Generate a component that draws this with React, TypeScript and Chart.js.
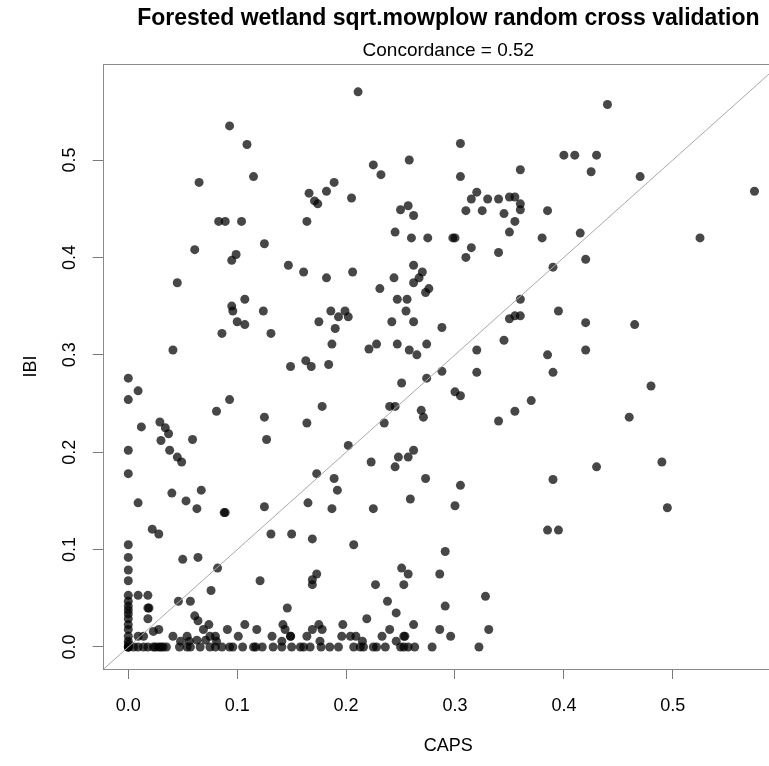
import { useEffect, useRef } from "react";
import { Chart, registerables } from "chart.js";

Chart.register(...registerables);

// Cross-validated CAPS predictions (x) against observed IBI (y)
const capsValues = [
  0.211, 0.093, 0.109, 0.258, 0.225, 0.232, 0.115, 0.065, 0.189, 0.182,
  0.166, 0.171, 0.174, 0.205, 0.25, 0.257, 0.262, 0.083, 0.089, 0.104,
  0.164, 0.245, 0.26, 0.275, 0.125, 0.061, 0.095, 0.099, 0.147, 0.161,
  0.182, 0.206, 0.262, 0.27, 0.244, 0.267, 0.262, 0.045, 0.231, 0.276,
  0.273, 0.247, 0.256, 0.107, 0.095, 0.096, 0.124, 0.186, 0.199, 0.193,
  0.202, 0.255, 0.1, 0.107, 0.175, 0.242, 0.262, 0.19, 0.086, 0.131,
  0.288, 0.187, 0.221, 0.228, 0.247, 0.258, 0.265, 0.274, 0.041, 0.149,
  0.163, 0.168, 0.184, 0.288, 0.274, 0.251, 0.0, 0.009, 0.0, 0.093,
  0.081, 0.178, 0.24, 0.245, 0.269, 0.271, 0.125, 0.164, 0.235, 0.012,
  0.029, 0.034, 0.037, 0.03, 0.059, 0.127, 0.0, 0.038, 0.045, 0.049,
  0.202, 0.262, 0.257, 0.248, 0.223, 0.245, 0.0, 0.173, 0.189, 0.273,
  0.192, 0.04, 0.067, 0.009, 0.053, 0.063, 0.088, 0.089, 0.125, 0.165,
  0.187, 0.225, 0.259, 0.022, 0.028, 0.131, 0.15, 0.169, 0.207,
  // zero-CAPS column
  0.0, 0.0, 0.0, 0.0, 0.0, 0.0, 0.0, 0.0, 0.0, 0.0, 0.0, 0.0, 0.0, 0.0,
  0.0, 0.0, 0.0, 0.0,
  0.009, 0.018, 0.018, 0.019, 0.018, 0.009, 0.014, 0.023, 0.028,
  // IBI = 0 row
  0.005, 0.009, 0.014, 0.018, 0.023, 0.025, 0.028, 0.03, 0.032, 0.035,
  0.047, 0.054, 0.057, 0.066, 0.075, 0.08, 0.086, 0.093, 0.096, 0.105,
  0.115, 0.117, 0.123, 0.133, 0.141, 0.15, 0.158, 0.161, 0.167, 0.177,
  0.185, 0.193, 0.207, 0.213, 0.216, 0.225, 0.228, 0.236, 0.25, 0.253,
  0.257, 0.263, 0.279, 0.322,
  // near-zero IBI
  0.041, 0.048, 0.054, 0.056, 0.063, 0.071, 0.075, 0.08, 0.081, 0.069,
  0.074, 0.091, 0.101, 0.107, 0.118, 0.132, 0.142, 0.144, 0.141, 0.149,
  0.149, 0.146, 0.164, 0.169, 0.175, 0.178, 0.176, 0.197, 0.196, 0.204,
  0.209, 0.215, 0.219, 0.233, 0.24, 0.246, 0.253, 0.254, 0.262, 0.286,
  0.296, 0.331, 0.328,
  0.05, 0.064, 0.082, 0.076, 0.046, 0.057, 0.061, 0.064, 0.121, 0.169,
  0.169, 0.173, 0.227, 0.251, 0.257, 0.253, 0.238, 0.246, 0.291, 0.286,
  0.291,
  // higher CAPS
  0.305, 0.305, 0.31, 0.315, 0.32, 0.325, 0.33, 0.34, 0.35, 0.355,
  0.36, 0.36, 0.355, 0.345, 0.35, 0.36, 0.315, 0.31, 0.34, 0.298,
  0.3, 0.385, 0.38, 0.39, 0.4, 0.41, 0.425, 0.43, 0.44, 0.415,
  0.42, 0.47, 0.575, 0.525, 0.395, 0.36, 0.355, 0.35, 0.345, 0.36,
  0.32, 0.32, 0.3, 0.305, 0.355, 0.37, 0.34, 0.39, 0.385, 0.42,
  0.42, 0.465, 0.48, 0.46, 0.43, 0.39, 0.49, 0.495, 0.385, 0.395,
  0.305, 0.3,
];

const ibiValues = [
  0.57, 0.535, 0.516, 0.5, 0.495, 0.485, 0.483, 0.477, 0.477, 0.468,
  0.466, 0.458, 0.455, 0.461, 0.449, 0.453, 0.443, 0.437, 0.437, 0.437,
  0.437, 0.426, 0.42, 0.42, 0.414, 0.408, 0.397, 0.403, 0.392, 0.385,
  0.379, 0.385, 0.392, 0.385, 0.379, 0.379, 0.374, 0.374, 0.368, 0.368,
  0.364, 0.357, 0.357, 0.357, 0.35, 0.345, 0.345, 0.345, 0.345, 0.339,
  0.339, 0.345, 0.334, 0.331, 0.334, 0.334, 0.334, 0.327, 0.322, 0.322,
  0.328, 0.311, 0.306, 0.311, 0.311, 0.305, 0.3, 0.311, 0.305, 0.288,
  0.294, 0.288, 0.29, 0.283, 0.276, 0.271, 0.276, 0.263, 0.254, 0.254,
  0.242, 0.247, 0.247, 0.247, 0.243, 0.236, 0.236, 0.23, 0.23, 0.226,
  0.231, 0.225, 0.219, 0.212, 0.213, 0.213, 0.202, 0.202, 0.195, 0.19,
  0.207, 0.202, 0.195, 0.195, 0.19, 0.185, 0.178, 0.178, 0.173, 0.173,
  0.161, 0.158, 0.161, 0.148, 0.15, 0.142, 0.138, 0.138, 0.144, 0.148,
  0.142, 0.142, 0.152, 0.121, 0.116, 0.116, 0.116, 0.111, 0.105,
  // zero-CAPS column
  0.105, 0.092, 0.079, 0.068, 0.053, 0.047, 0.042, 0.038, 0.034, 0.029,
  0.023, 0.018, 0.011, 0.006, 0.003, 0.0, 0.0, 0.0,
  0.053, 0.053, 0.04, 0.04, 0.029, 0.011, 0.011, 0.016, 0.018,
  // IBI = 0 row
  0.0, 0.0, 0.0, 0.0, 0.0, 0.0, 0.0, 0.0, 0.0, 0.0,
  0.0, 0.0, 0.0, 0.0, 0.0, 0.0, 0.0, 0.0, 0.0, 0.0,
  0.0, 0.0, 0.0, 0.0, 0.0, 0.0, 0.0, 0.0, 0.0, 0.0,
  0.0, 0.0, 0.0, 0.0, 0.0, 0.0, 0.0, 0.0, 0.0, 0.0,
  0.0, 0.0, 0.0, 0.0,
  // near-zero IBI
  0.011, 0.006, 0.011, 0.006, 0.007, 0.007, 0.011, 0.011, 0.006, 0.018,
  0.023, 0.018, 0.011, 0.023, 0.018, 0.011, 0.023, 0.018, 0.006, 0.011,
  0.011, 0.04, 0.011, 0.018, 0.023, 0.018, 0.006, 0.023, 0.011, 0.011,
  0.011, 0.006, 0.029, 0.011, 0.018, 0.006, 0.011, 0.011, 0.023, 0.018,
  0.011, 0.018, 0.052,
  0.09, 0.092, 0.081, 0.058, 0.047, 0.047, 0.032, 0.027, 0.068, 0.069,
  0.064, 0.075, 0.064, 0.081, 0.075, 0.064, 0.047, 0.035, 0.098, 0.075,
  0.042,
  // higher CAPS
  0.517, 0.483, 0.448, 0.46, 0.467, 0.448, 0.46, 0.46, 0.462, 0.462,
  0.455, 0.49, 0.437, 0.445, 0.426, 0.449, 0.41, 0.4, 0.405, 0.42,
  0.42, 0.448, 0.42, 0.39, 0.505, 0.505, 0.488, 0.505, 0.557, 0.425,
  0.398, 0.483, 0.468, 0.42, 0.345, 0.357, 0.34, 0.337, 0.315, 0.34,
  0.305, 0.282, 0.262, 0.258, 0.242, 0.253, 0.232, 0.282, 0.3, 0.333,
  0.305, 0.331, 0.268, 0.236, 0.185, 0.172, 0.19, 0.143, 0.12, 0.12,
  0.166, 0.145,
];

const xTickValues = [0, 0.1, 0.2, 0.3, 0.4, 0.5];
const yTickValues = [0, 0.1, 0.2, 0.3, 0.4, 0.5];
// 1:1 reference line endpoints
const identityEnds = [-0.1, 0.8];

const FONT = "'Liberation Sans', Arial, Helvetica, sans-serif";

const frameAndTitles = {
  id: "frameAndTitles",
  afterDraw(chart: any) {
    const { ctx, chartArea } = chart;
    const { left, top, right, bottom } = chartArea;
    const cx = (left + right) / 2;
    ctx.save();
    ctx.strokeStyle = "#8a8a8a";
    ctx.lineWidth = 1;
    ctx.strokeRect(Math.round(left) + 0.5, Math.round(top) + 0.5, right - left, bottom - top);
    ctx.fillStyle = "#000";
    ctx.textAlign = "center";
    ctx.textBaseline = "middle";
    ctx.font = `bold 23px ${FONT}`;
    ctx.fillText("Forested wetland sqrt.mowplow random cross validation", cx, 19);
    ctx.font = `19px ${FONT}`;
    ctx.fillText("Concordance = 0.52", cx, 51);
    ctx.restore();
  },
};

export default function App() {
  const canvasRef = useRef<HTMLCanvasElement | null>(null);

  useEffect(() => {
    const canvas = canvasRef.current;
    if (!canvas) return;
    const points = capsValues.map((x, i) => ({ x, y: ibiValues[i] }));
    const identity = identityEnds.map((v) => ({ x: v, y: v }));

    const chart = new Chart(canvas, {
      type: "scatter",
      data: {
        datasets: [
          {
            type: "line",
            data: identity,
            borderColor: "#a8a8a8",
            borderWidth: 1,
            pointRadius: 0,
            showLine: true,
            fill: false,
          } as any,
          {
            data: points,
            backgroundColor: "rgba(0,0,0,0.72)",
            borderWidth: 0,
            pointRadius: 4.5,
            pointHoverRadius: 4.5,
          },
        ],
      },
      options: {
        responsive: false,
        animation: false,
        devicePixelRatio: 1,
        layout: { padding: { top: 64, right: 6, left: 0, bottom: 0 } },
        plugins: {
          legend: { display: false },
          tooltip: { enabled: false },
          title: { display: false },
        },
        events: [],
        scales: {
          x: {
            type: "linear",
            min: -0.0235,
            max: 0.6113,
            border: { display: false },
            grid: {
              drawOnChartArea: false,
              drawTicks: true,
              tickLength: 10,
              tickColor: "#7a7a7a",
              color: "#7a7a7a",
            },
            ticks: {
              color: "#000",
              font: { family: FONT, size: 18 },
              padding: 16,
              maxRotation: 0,
              autoSkip: false,
              includeBounds: false,
              callback: (v: any) => Number(v).toFixed(1),
            },
            afterBuildTicks: (scale: any) => {
              scale.ticks = xTickValues.map((value) => ({ value }));
            },
            afterFit: (scale: any) => {
              scale.height = 97;
            },
            title: {
              display: true,
              text: "CAPS",
              color: "#000",
              font: { family: FONT, size: 18 },
              padding: { top: 0, bottom: 9 },
            },
          },
          y: {
            type: "linear",
            min: -0.0226,
            max: 0.5986,
            border: { display: false },
            grid: {
              drawOnChartArea: false,
              drawTicks: true,
              tickLength: 10,
              tickColor: "#7a7a7a",
              color: "#7a7a7a",
            },
            ticks: {
              color: "#000",
              font: { family: FONT, size: 18 },
              padding: 10.5,
              minRotation: 90,
              maxRotation: 90,
              crossAlign: "center",
              autoSkip: false,
              includeBounds: false,
              callback: (v: any) => Number(v).toFixed(1),
            },
            afterBuildTicks: (scale: any) => {
              scale.ticks = yTickValues.map((value) => ({ value }));
            },
            afterFit: (scale: any) => {
              scale.width = 102.7;
            },
            title: {
              display: true,
              text: "IBI",
              color: "#000",
              font: { family: FONT, size: 18 },
              padding: { top: 20, bottom: 0 },
            },
          },
        },
      },
      plugins: [frameAndTitles],
    });

    return () => chart.destroy();
  }, []);

  return (
    <div
      style={{
        position: "absolute",
        left: 0,
        top: 0,
        width: 769,
        height: 766,
        overflow: "hidden",
        background: "#fff",
      }}
    >
      <canvas ref={canvasRef} width={800} height={766} style={{ display: "block" }} />
    </div>
  );
}
